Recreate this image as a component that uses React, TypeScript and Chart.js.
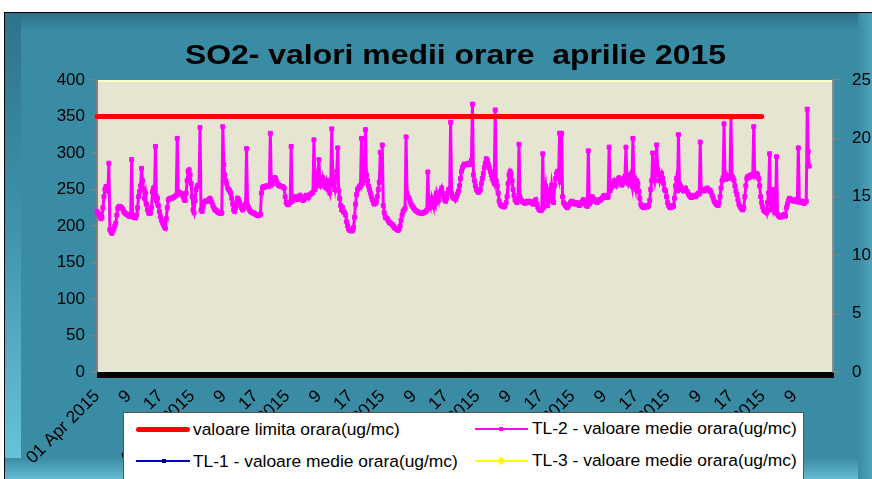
import React, { useEffect, useRef } from "react";
import { Chart, registerables } from "chart.js";

Chart.register(...registerables);

const FONT = "'Liberation Sans', Arial, Helvetica, sans-serif";

const TITLE = "SO2- valori medii orare  aprilie 2015";
const MONTH = "Apr";
const YEAR = 2015;
const AXIS_HOURS = 744; // category slots on the x axis
const DATA_HOURS = 720; // hours of April
const LABEL_EVERY = 32; // one visible label every 32 hourly categories

const LIMIT_VALUE = 350;
const LIMIT_HOURS = 672;

const LEFT_AXIS = { min: 0, max: 400, step: 50 };
const RIGHT_AXIS = { min: 0, max: 25, step: 5 };

const SERIES_NAMES = [
  "valoare limita orara(ug/mc)",
  "TL-1 - valoare medie orara(ug/mc)",
  "TL-2 - valoare medie orara(ug/mc)",
  "TL-3 - valoare medie orara(ug/mc)",
];

// TL-2 hourly SO2 values (ug/mc), one row per day of April 2015
const TL2 = [
  220, 218, 216, 213, 210, 212, 225, 240, 250, 254, 252, 248, 286, 195, 192, 190, 193, 196, 200, 204, 215, 224, 226, 227,
  226, 225, 223, 220, 218, 217, 216, 215, 214, 213, 213, 291, 213, 212, 212, 211, 215, 225, 240, 247, 255, 279, 262, 250,
  238, 245, 230, 222, 218, 217, 218, 225, 247, 252, 240, 309, 235, 238, 228, 220, 213, 208, 205, 202, 199, 197, 210, 225,
  236, 237, 238, 238, 238, 239, 240, 241, 242, 320, 247, 246, 245, 243, 244, 240, 236, 235, 245, 262, 275, 277, 270, 258,
  240, 222, 218, 235, 250, 254, 256, 255, 335, 222, 220, 226, 232, 234, 234, 235, 234, 236, 238, 235, 232, 228, 225, 222,
  222, 220, 219, 218, 218, 217, 218, 336, 284, 270, 262, 258, 252, 250, 248, 245, 238, 230, 222, 220, 225, 232, 238, 236,
  232, 228, 225, 222, 224, 228, 230, 306, 228, 225, 222, 220, 219, 218, 218, 217, 216, 215, 215, 214, 215, 216, 245, 252,
  254, 253, 254, 255, 254, 255, 256, 327, 256, 258, 262, 266, 266, 262, 258, 256, 255, 255, 254, 254, 253, 252, 240, 232,
  230, 229, 232, 232, 309, 234, 236, 238, 240, 238, 236, 237, 240, 242, 238, 236, 235, 236, 240, 242, 241, 239, 240, 243,
  244, 245, 246, 318, 250, 262, 270, 255, 291, 262, 255, 258, 266, 260, 255, 252, 262, 258, 250, 245, 262, 333, 268, 256,
  250, 265, 275, 307, 248, 238, 228, 222, 225, 220, 218, 215, 206, 200, 196, 194, 195, 193, 194, 198, 212, 230, 243, 250,
  252, 254, 256, 320, 258, 262, 268, 332, 270, 262, 255, 250, 245, 240, 236, 232, 230, 231, 233, 240, 250, 260, 301, 270,
  311, 228, 218, 212, 211, 210, 207, 205, 204, 203, 202, 200, 198, 197, 196, 195, 194, 196, 200, 208, 215, 220, 222, 224,
  322, 245, 240, 238, 234, 230, 228, 226, 224, 222, 221, 220, 219, 218, 218, 218, 217, 218, 218, 219, 220, 222, 274, 225,
  235, 228, 238, 232, 226, 238, 232, 245, 240, 235, 245, 248, 252, 245, 240, 236, 234, 238, 245, 250, 248, 342, 245, 240,
  238, 240, 236, 240, 244, 248, 255, 265, 275, 280, 283, 285, 284, 284, 285, 286, 284, 286, 290, 367, 270, 262, 255, 250,
  248, 246, 248, 250, 258, 265, 272, 280, 286, 292, 290, 285, 280, 275, 270, 265, 262, 258, 359, 262, 255, 245, 234, 230,
  228, 227, 228, 226, 228, 232, 240, 258, 270, 275, 272, 262, 250, 242, 236, 234, 232, 236, 312, 240, 236, 234, 233, 232,
  231, 232, 234, 233, 232, 234, 233, 232, 230, 232, 234, 236, 230, 226, 223, 222, 221, 222, 299, 225, 245, 255, 240, 228,
  250, 235, 240, 256, 245, 232, 255, 265, 272, 275, 268, 327, 260, 327, 240, 232, 230, 228, 226, 225, 228, 230, 232, 234,
  233, 232, 230, 231, 232, 230, 229, 228, 230, 232, 234, 236, 233, 230, 228, 227, 303, 230, 232, 236, 240, 238, 236, 234,
  233, 232, 234, 236, 235, 237, 238, 240, 242, 241, 240, 239, 240, 308, 248, 252, 256, 258, 262, 258, 255, 260, 264, 266,
  262, 258, 256, 260, 265, 268, 308, 262, 258, 266, 270, 262, 255, 320, 266, 258, 250, 262, 258, 248, 238, 230, 227, 226,
  225, 226, 228, 227, 226, 228, 235, 250, 262, 300, 270, 262, 275, 311, 278, 270, 262, 268, 272, 265, 258, 250, 248, 240,
  232, 228, 226, 225, 226, 228, 227, 238, 255, 265, 248, 325, 258, 255, 252, 250, 248, 250, 252, 248, 247, 244, 242, 240,
  239, 240, 241, 242, 240, 241, 243, 245, 244, 315, 248, 250, 249, 248, 250, 251, 252, 250, 248, 249, 246, 242, 238, 234,
  232, 230, 229, 228, 232, 240, 252, 262, 266, 340, 265, 264, 266, 268, 265, 266, 349, 268, 266, 262, 255, 248, 243, 236,
  230, 227, 225, 223, 222, 225, 240, 255, 265, 268, 266, 268, 270, 268, 270, 336, 268, 270, 272, 270, 265, 255, 240, 232,
  226, 222, 220, 222, 218, 232, 245, 299, 222, 240, 230, 250, 220, 218, 295, 216, 214, 213, 212, 214, 213, 215, 216, 214,
  225, 230, 235, 238, 237, 236, 235, 234, 236, 235, 234, 233, 307, 234, 232, 233, 234, 232, 231, 233, 234, 360, 302, 282,
];

// TL-1 and TL-3 have no readings in this period
const TL1: (number | null)[] = [];
const TL3: (number | null)[] = [];

function buildLabels(): string[] {
  const out: string[] = [];
  for (let i = 0; i < AXIS_HOURS; i++) {
    const hour = (i % 24) + 1;
    const day = Math.floor(i / 24) + 1;
    out.push(hour === 1 ? `${String(day).padStart(2, "0")} ${MONTH} ${YEAR}` : String(hour));
  }
  return out;
}

const plotBackground = {
  id: "plotBackground",
  beforeDraw(chart: any) {
    const { ctx, chartArea: a } = chart;
    ctx.save();
    ctx.fillStyle = "#E5E5D1";
    ctx.fillRect(a.left, a.top, a.right - a.left, a.bottom - a.top);
    ctx.strokeStyle = "#FFFFC4";
    ctx.lineWidth = 2;
    ctx.beginPath();
    ctx.moveTo(a.left, a.top + 1);
    ctx.lineTo(a.right, a.top + 1);
    ctx.stroke();
    ctx.restore();
  },
};

export default function App() {
  const ref = useRef<HTMLCanvasElement>(null);

  useEffect(() => {
    if (!ref.current) return;
    const labels = buildLabels();
    const limit = labels.map((_, i) => (i < LIMIT_HOURS ? LIMIT_VALUE : null));
    const tickFont = { family: FONT, size: 17 };

    const chart = new Chart(ref.current, {
      type: "line",
      data: {
        labels,
        datasets: [
          {
            label: SERIES_NAMES[0],
            data: limit,
            borderColor: "#FF0000",
            backgroundColor: "#FF0000",
            borderWidth: 5,
            borderCapStyle: "round",
            pointRadius: 0,
            yAxisID: "y",
          },
          {
            label: SERIES_NAMES[1],
            data: TL1,
            borderColor: "#0000CC",
            backgroundColor: "#0000CC",
            borderWidth: 2,
            pointRadius: 2,
            yAxisID: "y",
          },
          {
            label: SERIES_NAMES[2],
            data: TL2,
            borderColor: "#FF00FF",
            backgroundColor: "#FF00FF",
            borderWidth: 3,
            pointStyle: "rect",
            pointRadius: 2.8,
            pointBorderWidth: 1,
            pointBackgroundColor: "#FF00FF",
            pointBorderColor: "#FF00FF",
            yAxisID: "y",
          },
          {
            label: SERIES_NAMES[3],
            data: TL3,
            borderColor: "#FFFF00",
            backgroundColor: "#FFFF00",
            borderWidth: 2,
            pointStyle: "rectRot",
            pointRadius: 4,
            yAxisID: "y",
          },
        ],
      },
      options: {
        responsive: false,
        animation: false,
        devicePixelRatio: 1,
        layout: { padding: { top: 80, left: 0, right: 0, bottom: 0 } },
        elements: { line: { tension: 0 } },
        plugins: {
          legend: { display: false },
          title: { display: false },
          tooltip: { enabled: false },
        },
        scales: {
          x: {
            type: "category",
            offset: false,
            grid: {
              display: true,
              drawOnChartArea: false,
              drawTicks: true,
              tickLength: 6,
              color: "#000000",
              lineWidth: 1,
            },
            border: { display: true, color: "#000000", width: 1 },
            ticks: {
              autoSkip: false,
              minRotation: 45,
              maxRotation: 45,
              padding: 8,
              color: "#000000",
              font: { family: FONT, size: 17.5 },
              callback: (_v: any, i: number) =>
                i % LABEL_EVERY === 0 && i < DATA_HOURS ? labels[i] : "",
            },
            afterFit: (s: any) => {
              s.height = 107;
            },
          },
          y: {
            position: "left",
            min: LEFT_AXIS.min,
            max: LEFT_AXIS.max,
            ticks: { stepSize: LEFT_AXIS.step, padding: 6, color: "#000000", font: tickFont },
            grid: { drawOnChartArea: false, drawTicks: true, tickLength: 6, color: "#808080", lineWidth: 1.5 },
            border: { display: true, color: "#808080", width: 2 },
            afterFit: (s: any) => {
              s.width = 97;
            },
          },
          y1: {
            position: "right",
            min: RIGHT_AXIS.min,
            max: RIGHT_AXIS.max,
            ticks: { stepSize: RIGHT_AXIS.step, padding: 12, color: "#000000", font: tickFont },
            grid: { drawOnChartArea: false, drawTicks: true, tickLength: 7, color: "#808080", lineWidth: 1.5 },
            border: { display: true, color: "#8C8C8C", width: 2 },
            afterFit: (s: any) => {
              s.width = 39;
            },
          },
        },
      },
      plugins: [plotBackground],
    });

    return () => chart.destroy();
  }, []);

  const legendText: React.CSSProperties = {
    position: "absolute",
    fontFamily: FONT,
    fontSize: 17.4,
    lineHeight: "20px",
    color: "#000",
    whiteSpace: "pre",
  };

  return (
    <div
      style={{
        position: "fixed",
        left: 0,
        top: 0,
        width: 872,
        height: 479,
        overflow: "hidden",
        background: "#ffffff",
        fontFamily: FONT,
      }}
    >
      {/* outer frame */}
      <div
        style={{
          position: "absolute",
          left: 4,
          top: 12,
          width: 900,
          height: 500,
          background: "#3A8CA4",
          borderTop: "1px solid #000",
          borderLeft: "1px solid #000",
        }}
      />
      <div
        style={{
          position: "absolute",
          left: 5,
          top: 13,
          width: 900,
          height: 18,
          background: "linear-gradient(to bottom, #2C7088, #3A8CA4)",
        }}
      />
      <div
        style={{
          position: "absolute",
          left: 5,
          top: 13,
          width: 16,
          height: 470,
          background: "linear-gradient(to bottom, #2E748B, #3E93AB 45%, #6EC7DD)",
        }}
      />
      <div
        style={{
          position: "absolute",
          left: 5,
          top: 458,
          width: 900,
          height: 22,
          background: "linear-gradient(to bottom, #3A8CA4, #67BED5)",
        }}
      />
      <div
        style={{
          position: "absolute",
          left: 858,
          top: 13,
          width: 20,
          height: 470,
          background: "linear-gradient(to right, #3A8CA4, #57ADC4)",
        }}
      />

      <canvas
        ref={ref}
        width={872}
        height={479}
        style={{ position: "absolute", left: 0, top: 0, width: 872, height: 479 }}
      />

      {/* title */}
      <div
        style={{
          position: "absolute",
          left: 0,
          top: 41,
          width: 911,
          textAlign: "center",
          fontFamily: FONT,
          fontWeight: "bold",
          fontSize: 28,
          lineHeight: "28px",
          color: "#000",
          whiteSpace: "pre",
          transform: "scaleX(1.14)",
          transformOrigin: "455.5px 0",
        }}
      >
        {TITLE}
      </div>

      {/* legend */}
      <div
        style={{
          position: "absolute",
          left: 123,
          top: 412,
          width: 679,
          height: 90,
          background: "#ffffff",
          border: "1px solid #555",
        }}
      />
      <div style={{ position: "absolute", left: 136, top: 427, width: 54, height: 5, borderRadius: 3, background: "#FF0000" }} />
      <div style={{ ...legendText, left: 193, top: 419 }}>{SERIES_NAMES[0]}</div>

      <div style={{ position: "absolute", left: 475, top: 428, width: 53, height: 2, background: "#FF00FF" }} />
      <div style={{ position: "absolute", left: 499, top: 427, width: 4, height: 4, background: "#FF00FF" }} />
      <div style={{ ...legendText, left: 532, top: 418 }}>{SERIES_NAMES[2]}</div>

      <div style={{ position: "absolute", left: 136, top: 460, width: 54, height: 2, background: "#0000CC" }} />
      <div style={{ position: "absolute", left: 162, top: 459, width: 4, height: 4, background: "#000080" }} />
      <div style={{ ...legendText, left: 193, top: 451 }}>{SERIES_NAMES[1]}</div>

      <div style={{ position: "absolute", left: 475, top: 460, width: 53, height: 2, background: "#FFFF00" }} />
      <div
        style={{
          position: "absolute",
          left: 498,
          top: 458,
          width: 6,
          height: 6,
          background: "#FFFF00",
          transform: "rotate(45deg)",
        }}
      />
      <div style={{ ...legendText, left: 532, top: 450 }}>{SERIES_NAMES[3]}</div>
    </div>
  );
}
